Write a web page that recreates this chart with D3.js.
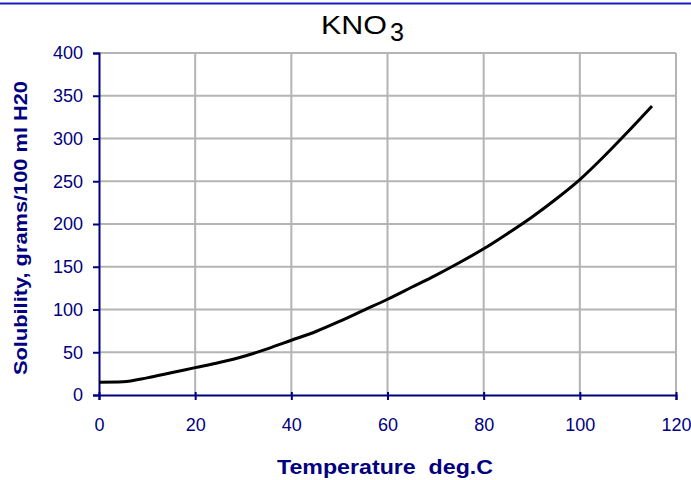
<!DOCTYPE html>
<html>
<head>
<meta charset="utf-8">
<script src="https://cdn.jsdelivr.net/npm/d3@7"></script>
<style>
  body { margin: 0; background: #fff; }
  text { font-family: Arial, "Liberation Sans", sans-serif; }
</style>
</head>
<body>
<svg id="chart" width="691" height="480"></svg>
<script>
// temperature (deg C) and KNO3 solubility
const temps = [0, 5, 10, 15, 20, 25, 30, 35, 40, 45, 50, 55, 60, 65, 70, 75, 80, 85, 90, 95, 100, 105, 110, 115];
const solubility = [15, 15.5, 20, 26, 32, 38, 45, 54, 64, 74, 86, 99, 112, 126, 140, 155, 171, 189, 208, 229, 252, 279, 308, 338];
const xTicks = [0, 20, 40, 60, 80, 100, 120];
const yTicks = [0, 50, 100, 150, 200, 250, 300, 350, 400];

const svg = d3.select('#chart');
const navy = '#000080';
const margin = { top: 53, right: 15, bottom: 85, left: 99 };
const width = 691, height = 480;

const x = d3.scaleLinear().domain([0, 120]).range([margin.left, width - margin.right]);
const y = d3.scaleLinear().domain([0, 400]).range([height - margin.bottom, margin.top]);

// hyperlink underline at top (text itself is cut off)
svg.append('line')
    .attr('x1', 0).attr('x2', width)
    .attr('y1', 3.5).attr('y2', 3.5)
    .attr('stroke', '#1a1ac0')
    .attr('stroke-width', 2);

// grid
svg.append('g')
    .selectAll('line')
    .data(yTicks.slice(1))
    .join('line')
    .attr('x1', x(0)).attr('x2', x(120))
    .attr('y1', d => y(d)).attr('y2', d => y(d))
    .attr('stroke', '#b4b4b4')
    .attr('stroke-width', 2);

svg.append('g')
    .selectAll('line')
    .data(xTicks.slice(1))
    .join('line')
    .attr('x1', d => x(d)).attr('x2', d => x(d))
    .attr('y1', y(0)).attr('y2', y(400))
    .attr('stroke', '#b4b4b4')
    .attr('stroke-width', 2);

// axes
const xAxis = svg.append('g')
    .attr('transform', `translate(0,${y(0)})`)
    .call(d3.axisBottom(x).tickValues(xTicks).tickSize(5).tickPadding(18));

const yAxis = svg.append('g')
    .attr('transform', `translate(${x(0)},0)`)
    .call(d3.axisLeft(y).tickValues(yTicks).tickSize(6).tickPadding(10));

[xAxis, yAxis].forEach(a => {
    a.select('.domain').attr('stroke', navy).attr('stroke-width', 2);
    a.selectAll('.tick line').attr('stroke', navy).attr('stroke-width', 2);
    a.selectAll('.tick text')
        .attr('fill', navy)
        .style('font-size', '18px')
        .style('font-family', 'Arial, "Liberation Sans", sans-serif');
});
xAxis.selectAll('.tick line').attr('y1', -3);

// curve
const line = d3.line()
    .x((d, i) => x(temps[i]))
    .y(d => y(d))
    .curve(d3.curveMonotoneX);

svg.append('path')
    .datum(solubility)
    .attr('fill', 'none')
    .attr('stroke', '#000')
    .attr('stroke-width', 3)
    .attr('d', line);

// title
svg.append('text')
    .attr('x', 321).attr('y', 34)
    .attr('textLength', 66)
    .attr('lengthAdjust', 'spacingAndGlyphs')
    .style('font-size', '26px')
    .attr('fill', '#000')
    .text('KNO');
svg.append('text')
    .attr('x', 390).attr('y', 41)
    .attr('textLength', 14)
    .attr('lengthAdjust', 'spacingAndGlyphs')
    .style('font-size', '26px')
    .attr('fill', '#000')
    .text('3');

// axis titles
svg.append('text')
    .attr('x', 277).attr('y', 474)
    .attr('textLength', 216)
    .attr('lengthAdjust', 'spacingAndGlyphs')
    .attr('fill', navy)
    .style('font-size', '21px')
    .style('font-weight', 'bold')
    .attr('xml:space', 'preserve')
    .text('Temperature  deg.C');

svg.append('text')
    .attr('transform', 'translate(27,375) rotate(-90)')
    .attr('textLength', 294)
    .attr('lengthAdjust', 'spacingAndGlyphs')
    .attr('fill', navy)
    .style('font-size', '18px')
    .style('font-weight', 'bold')
    .text('Solubility, grams/100 ml H20');
</script>
</body>
</html>
